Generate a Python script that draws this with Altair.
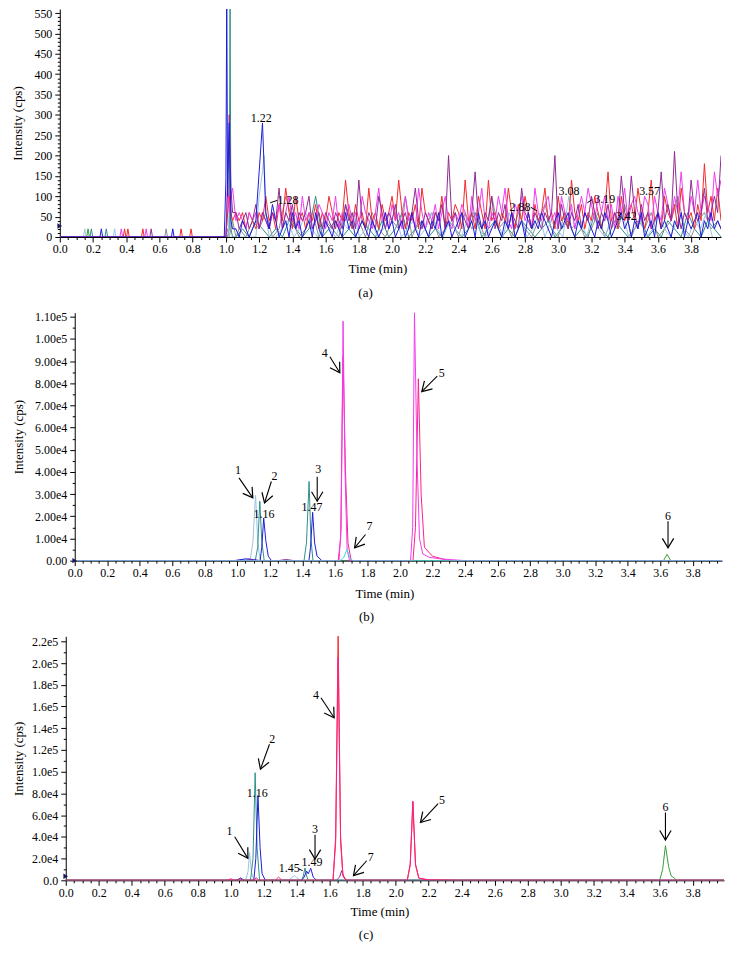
import math
import pandas as pd
import altair as alt

FONT = "Liberation Serif"

C_RED = "#f2282c"
C_MAG = "#ee3cee"
C_PINK = "#ff1f86"
C_PUR = "#8e2a92"
C_BLUE = "#1c1cd8"
C_TEAL = "#2f8f8a"
C_LTBLUE = "#9cc4e4"
C_GREEN = "#3a9a3a"
C_GREY = "#8c8c8c"
C_CYAN = "#3cdcdc"
C_MARK = "#1a1a5e"

X_TICKS = [round(0.05 * i, 2) for i in range(80)]

# ---------------- Panel (a) data ----------------
a_grid_start = 1.06
a_grid_step = 0.02
a_red = [60, 40, 60, 20, 60, 40, 20, 60, 40, 100,
         40, 60, 20, 80, 40, 120, 60, 20, 100, 40,
         60, 20, 60, 40, 80, 20, 60, 40, 100, 60,
         20, 60, 40, 140, 60, 20, 80, 40, 60, 20,
         120, 40, 60, 20, 80, 40, 60, 100, 40, 140,
         60, 20, 60, 40, 80, 20, 120, 60, 40, 20,
         60, 40, 100, 20, 60, 40, 80, 60, 20, 140,
         40, 60, 20, 100, 60, 20, 140, 40, 60, 20,
         60, 40, 120, 60, 20, 80, 40, 100, 60, 20,
         80, 40, 60, 120, 40, 60, 20, 100, 40, 60,
         20, 140, 60, 40, 80, 20, 60, 40, 100, 60,
         20, 60, 160, 40, 60, 20, 100, 40, 60, 80,
         40, 120, 60, 20, 60, 140, 40, 60, 20, 100,
         60, 40, 80, 20, 120, 60, 40, 60, 20, 80,
         40, 180, 60, 100, 40, 120, 40]
a_magenta = [40, 60, 40, 20, 60, 40, 60, 20, 60, 40,
             20, 60, 40, 80, 20, 60, 100, 40, 60, 20,
             100, 40, 60, 20, 40, 80, 60, 20, 60, 40,
             100, 20, 60, 40, 80, 40, 60, 20, 100, 60,
             40, 20, 60, 120, 40, 60, 20, 80, 40, 60,
             20, 100, 40, 60, 20, 120, 60, 20, 60, 40,
             80, 20, 60, 100, 40, 20, 60, 40, 80, 60,
             20, 100, 40, 60, 120, 40, 20, 60, 40, 100,
             60, 120, 40, 20, 80, 60, 100, 40, 60, 20,
             120, 60, 40, 80, 100, 40, 60, 20, 100, 60,
             40, 80, 20, 60, 100, 60, 120, 80, 40, 100,
             60, 100, 40, 80, 20, 100, 60, 120, 40, 80,
             100, 60, 40, 100, 80, 20, 100, 60, 40, 120,
             80, 40, 100, 60, 160, 60, 40, 100, 60, 140,
             60, 100, 80, 40, 160, 100, 140]
a_purple = [60, 20, 40, 60, 20, 40, 80, 20, 60, 40,
            20, 60, 40, 120, 20, 60, 40, 80, 20, 60,
            40, 60, 100, 20, 40, 60, 20, 60, 40, 20,
            60, 40, 20, 80, 40, 60, 20, 140, 40, 20,
            60, 40, 20, 100, 60, 20, 60, 40, 80, 20,
            40, 60, 20, 60, 120, 40, 20, 60, 40, 20,
            60, 40, 80, 20, 200, 40, 60, 20, 60, 40,
            20, 60, 160, 40, 20, 60, 40, 100, 20, 60,
            40, 80, 20, 60, 40, 20, 120, 60, 40, 20,
            60, 40, 20, 60, 40, 60, 200, 20, 80, 40,
            20, 60, 40, 80, 20, 60, 40, 100, 60, 20,
            60, 40, 80, 20, 60, 40, 150, 60, 40, 150,
            60, 20, 80, 40, 60, 20, 40, 60, 160, 40,
            80, 40, 210, 60, 20, 60, 40, 140, 60, 40,
            60, 120, 40, 60, 100, 60, 200]
a_blue = [20, 0, 40, 20, 0, 20, 40, 160, 280, 60,
          20, 80, 40, 0, 20, 40, 0, 60, 20, 40,
          0, 20, 40, 0, 60, 20, 0, 40, 20, 0,
          40, 20, 0, 60, 20, 40, 0, 20, 40, 20,
          0, 40, 20, 0, 20, 60, 20, 40, 0, 20,
          40, 0, 20, 60, 20, 0, 40, 20, 0, 40,
          20, 60, 0, 20, 40, 0, 20, 40, 60, 0,
          20, 40, 0, 60, 20, 40, 0, 20, 40, 20,
          0, 40, 20, 60, 0, 20, 40, 0, 60, 20,
          40, 20, 60, 40, 20, 0, 40, 60, 20, 40,
          60, 20, 0, 40, 20, 60, 40, 20, 0, 40,
          20, 60, 40, 0, 20, 40, 60, 20, 40, 0,
          40, 20, 60, 0, 20, 40, 0, 60, 20, 40,
          20, 0, 40, 20, 60, 0, 40, 20, 40, 60,
          0, 40, 20, 60, 20, 40, 20]
a_teal_start = 1.06
a_teal_step = 0.04
a_teal = [0, 20, 0, 40, 20, 0, 20, 0, 40, 20,
          0, 20, 100, 0, 20, 40, 0, 20, 0, 40,
          20, 0, 40, 0, 20, 60, 0, 20, 40, 0,
          20, 0, 40, 20, 0, 20, 60, 0, 20, 40,
          0, 20, 0, 40, 20, 0, 20, 40, 0, 20,
          40, 0, 20, 0, 60, 20, 0, 40, 20, 0,
          20, 40, 0, 20, 0, 40, 20, 0, 60, 20,
          0, 40, 20, 0]
a_grey_start = 1.08
a_grey_step = 0.04
a_grey = [20, 0, 40, 20, 60, 0, 20, 100, 40, 0,
          20, 60, 0, 40, 20, 0, 80, 20, 40, 0,
          60, 20, 0, 40, 20, 100, 0, 40, 20, 60,
          0, 20, 40, 0, 60, 20, 40, 0, 100, 20,
          40, 0, 60, 20, 0, 40, 80, 20, 0, 60,
          20, 40, 0, 20, 60, 0, 40, 20, 80, 0,
          40, 20, 60, 0, 20, 40, 100, 20, 0, 40,
          60, 20, 40, 0]
a_ltblue_start = 1.30
a_ltblue_step = 0.036
a_ltblue = [0, 20, 40, 0, 20, 60, 20, 0, 40, 20,
            0, 40, 20, 60, 0, 20, 40, 0, 20, 40,
            60, 0, 20, 40, 0, 20, 60, 20, 0, 40,
            20, 0, 40, 60, 20, 0, 20, 40, 0, 60,
            20, 40, 0, 20, 60, 0, 40, 20, 0, 100,
            20, 40, 0, 60, 20, 0, 40, 20, 60, 0,
            20, 40, 0, 20, 60, 20, 0, 40, 20, 0,
            40, 20, 60, 0]

a_pre_ltblue = [0.15, 0.33]
a_pre_green = [0.17]
a_pre_teal = [0.19, 0.28]
a_pre_blue = [0.25, 0.68]
a_pre_magenta = [0.37, 0.52]
a_pre_purple = [0.55]
a_pre_red = [0.39, 0.41, 0.50, 0.73, 0.79]
a_pre_grey = [0.64]
a_pre_height = 20

a_early_t_blue = [0.99, 1.00, 1.005, 1.01, 1.02, 1.03, 1.04]
a_early_v_blue = [0, 140, 600, 100, 280, 40, 20]
a_early_t_teal = [1.01, 1.02, 1.025, 1.03, 1.04]
a_early_v_teal = [0, 20, 600, 20, 0]
a_early_t_purple = [1.00, 1.01, 1.02, 1.03, 1.04]
a_early_v_purple = [0, 120, 300, 120, 60]
a_early_t_magenta = [1.00, 1.01, 1.02, 1.03, 1.04]
a_early_v_magenta = [0, 150, 60, 100, 120]
a_early_t_red = [1.00, 1.01, 1.02, 1.03, 1.04]
a_early_v_red = [0, 60, 100, 60, 40]
a_early_t_ltblue = [1.00, 1.01, 1.02, 1.18, 1.20, 1.22, 1.23, 1.24, 1.26]
a_early_v_ltblue = [0, 60, 0, 0, 100, 160, 200, 60, 0]
a_early_t_grey = [1.00, 1.01, 1.02, 1.04, 1.06]
a_early_v_grey = [0, 20, 0, 40, 0]

a_lab_text = ["1.22", "1.28", "2.88", "3.08", "3.19", "3.42", "3.57"]
a_lab_t = [1.212, 1.374, 2.77, 3.065, 3.28, 3.41, 3.55]
a_lab_v = [293, 91, 73, 112, 93, 52, 112]
a_lead_t = [1.266, 2.835, 3.175]
a_lead_v = [84, 73, 84]
a_lead_t2 = [1.31, 2.873, 3.205]
a_lead_v2 = [90, 64, 92]
a_marker_v = [27]

# ---------------- Panel (b) data ----------------
b_ltblue_t = [0.0, 1.00, 1.08, 1.095, 1.112, 1.125, 1.14, 3.98]
b_ltblue_v = [0, 0, 1000, 8000, 29500, 9000, 0, 0]
b_teal_t = [0.0, 1.11, 1.125, 1.138, 1.15, 1.165, 1.41, 1.425, 1.441, 1.452, 1.465, 3.98]
b_teal_v = [0, 0, 6000, 26800, 9000, 0, 0, 8000, 35700, 10000, 0, 0]
b_blue_t = [0.0, 0.98, 1.05, 1.10, 1.14, 1.15, 1.162, 1.175, 1.19, 1.21,
            1.44, 1.45, 1.463, 1.475, 1.49, 1.52, 3.98]
b_blue_v = [0, 0, 800, 500, 0, 6000, 19200, 9000, 2000, 0,
            0, 6000, 21800, 8000, 2000, 0, 0]
b_purple_t = [0.0, 1.05, 1.08, 1.11, 1.25, 1.30, 1.35, 3.98]
b_purple_v = [0, 0, 600, 0, 0, 500, 0, 0]
b_green_t = [0.0, 3.62, 3.642, 3.665, 3.98]
b_green_v = [0, 0, 2800, 0, 0]
b_red_t = [0.0, 1.62, 1.635, 1.650, 1.665, 1.68, 1.70, 2.08, 2.095, 2.113, 2.13, 2.15, 2.20, 2.30, 3.98]
b_red_v = [0, 0, 10000, 92000, 40000, 8000, 0, 0, 15000, 82000, 30000, 6000, 2000, 0, 0]
b_mag_t = [0.0, 1.625, 1.638, 1.650, 1.662, 1.675, 1.69, 2.065, 2.078, 2.089, 2.105,
           2.12, 2.14, 2.18, 2.25, 2.40, 3.98]
b_mag_v = [0, 0, 15000, 108000, 40000, 5000, 0, 0, 15000, 112000, 45000,
           10000, 3000, 1500, 800, 0, 0]
b_cyan_t = [0.0, 1.63, 1.655, 1.674, 1.69, 1.71, 3.98]
b_cyan_v = [0, 0, 1500, 5100, 1500, 0, 0]

b_lab_text = ["1", "2", "1.16", "3", "1.47", "4", "7", "5", "6"]
b_lab_t = [1.004, 1.228, 1.164, 1.498, 1.459, 1.538, 1.813, 2.256, 3.648]
b_lab_v = [40700, 38300, 21100, 41300, 24200, 93800, 15500, 84400, 20300]
b_arr_t = [1.010, 1.209, 1.491, 1.569, 1.788, 2.229, 3.648]
b_arr_v = [37300, 35700, 37800, 91900, 11800, 83200, 17800]
b_arr_t2 = [1.095, 1.167, 1.491, 1.630, 1.721, 2.134, 3.648]
b_arr_v2 = [28300, 26000, 26800, 84700, 5800, 76200, 5800]
b_marker_v = [0]

# ---------------- Panel (c) data ----------------
c_ltblue_t = [0.0, 1.09, 1.105, 1.114, 1.125, 1.14, 1.35, 1.37, 1.386, 1.40, 1.42, 3.99]
c_ltblue_v = [0, 0, 8000, 25700, 8000, 0, 0, 2500, 4300, 2500, 0, 0]
c_teal_t = [0.0, 1.12, 1.135, 1.148, 1.16, 1.175, 1.43, 1.44, 1.450, 1.46, 1.47, 3.99]
c_teal_v = [0, 0, 20000, 99000, 30000, 0, 0, 4000, 11400, 4000, 0, 0]
c_blue_t = [0.0, 1.04, 1.06, 1.08, 1.14, 1.152, 1.165, 1.178, 1.19, 1.21,
            1.43, 1.445, 1.46, 1.47, 1.485, 1.50, 1.52, 3.99]
c_blue_v = [0, 0, 2200, 0, 0, 20000, 78000, 30000, 6000, 0,
            0, 3000, 8500, 6000, 11000, 3000, 0, 0]
c_purple_t = [0.0, 1.03, 1.055, 1.08, 1.64, 1.66, 1.672, 1.685, 1.70, 3.99]
c_purple_v = [0, 0, 1500, 0, 0, 3000, 8900, 3000, 0, 0]
c_green_t = [0.0, 3.60, 3.618, 3.635, 3.655, 3.67, 3.69, 3.70, 3.99]
c_green_v = [0, 0, 10000, 31900, 12000, 4000, 2000, 0, 0]
c_red_t = [0.0, 1.62, 1.636, 1.651, 1.666, 1.68, 1.70, 2.07, 2.088, 2.104, 2.12, 2.14, 2.20, 3.99]
c_red_v = [0, 0, 40000, 226000, 40000, 5000, 0, 0, 15000, 72000, 15000, 2000, 0, 0]
c_pink_t = [0.0, 0.98, 1.0, 1.02, 1.14, 1.155, 1.17, 1.27, 1.29, 1.31, 1.62, 1.636, 1.651,
            1.666, 1.68, 1.70, 2.07, 2.088, 2.104, 2.12, 2.14, 2.20, 2.40, 3.99]
c_pink_v = [0, 0, 1500, 0, 0, 2500, 0, 0, 3000, 0, 0, 35000, 205000,
            35000, 4000, 0, 0, 14000, 73000, 14000, 2000, 500, 0, 0]

c_lab_text = ["1", "2", "1.16", "3", "1.45", "1.49", "4", "7", "5", "6"]
c_lab_t = [0.993, 1.251, 1.161, 1.511, 1.355, 1.492, 1.517, 1.849, 2.281, 3.635]
c_lab_v = [45600, 129800, 80800, 47200, 11400, 16500, 171000, 21100, 73800, 67700]
c_arr_t = [1.024, 1.235, 1.511, 1.547, 1.824, 2.257, 3.635]
c_arr_v = [40100, 125200, 42000, 168000, 18000, 70700, 62400]
c_arr_t2 = [1.104, 1.180, 1.511, 1.627, 1.744, 2.150, 3.635]
c_arr_v2 = [20200, 102300, 19600, 149600, 4300, 53200, 37100]
c_lead_t = [1.412]
c_lead_v = [10500]
c_lead_t2 = [1.436]
c_lead_v2 = [8900]
c_marker_v = [3700]

ARROW_PATH = "M-0.6,-1L0,0L0.6,-1"


# ---------------- helpers ----------------
def spike_pts(times, h, w=0.008):
    t, v = [], []
    for x in times:
        t += [x - w, x, x + w]
        v += [0, h, 0]
    return t, v


def a_series(pre, early_t, early_v, grid=None, start=a_grid_start, step=a_grid_step):
    t, v = [0.0], [0]
    st, sv = spike_pts(pre, a_pre_height)
    t += st
    v += sv
    t += list(early_t)
    v += list(early_v)
    if grid:
        t += [round(start + step * i, 3) for i in range(len(grid))]
        v += list(grid)
    return pd.DataFrame({"t": t, "v": v})


def df(t, v):
    return pd.DataFrame({"t": t, "v": v})


def x_enc(xmax, title_x, title_pad):
    major = "abs(datum.value*5 - round(datum.value*5)) < 0.001"
    return alt.X(
        "t:Q",
        scale=alt.Scale(domain=[0, xmax], nice=False, zero=False),
        axis=alt.Axis(
            values=X_TICKS,
            labelExpr=f"{major} ? format(datum.value, '.1f') : ''",
            tickSize={"condition": {"test": major, "value": 5}, "value": 2.5},
            labelOverlap=False, labelFlush=False, labelPadding=2,
            title="Time (min)", titleX=title_x, titlePadding=title_pad,
        ),
    )


def y_enc(ymax, values, major_step, fmt, zero_txt, title_pad):
    major = f"datum.value % {major_step} == 0"
    if fmt == "d":
        lab = f"{major} ? format(datum.value, 'd') : ''"
    else:
        lab = (f"{major} ? (datum.value == 0 ? '{zero_txt}' : "
               f"replace(format(datum.value, '{fmt}'), 'e+', 'e')) : ''")
    return alt.Y(
        "v:Q",
        scale=alt.Scale(domain=[0, ymax], nice=False, zero=True),
        axis=alt.Axis(
            values=values, labelExpr=lab,
            tickSize={"condition": {"test": major, "value": 5}, "value": 2.5},
            labelOverlap=False, labelFlush=False, labelPadding=3,
            title="Intensity (cps)", titlePadding=title_pad,
        ),
    )


def panel(series, labels, arrows, leaders, marker_v, xmax, ymax, W, H,
          xe, ye, caption, cap_dx, cap_off):
    layers = []
    for d, color in series:
        layers.append(alt.Chart(d).mark_line(color=color, strokeWidth=1, clip=True)
                      .encode(x=xe, y=ye))
    if leaders is not None:
        lt, lv, lt2, lv2 = leaders
        ldf = pd.DataFrame({"t": lt, "v": lv, "t2": lt2, "v2": lv2})
        layers.append(alt.Chart(ldf).mark_rule(color="black", strokeWidth=1)
                      .encode(x=xe, y=ye, x2=alt.X2("t2"), y2=alt.Y2("v2")))
    if arrows is not None:
        at, av, at2, av2 = arrows
        adf = pd.DataFrame({"t": at, "v": av, "t2": at2, "v2": av2})
        layers.append(alt.Chart(adf).mark_rule(color="black", strokeWidth=1.1)
                      .encode(x=xe, y=ye, x2=alt.X2("t2"), y2=alt.Y2("v2")))
        angs = []
        for a, b, c, d in zip(at, av, at2, av2):
            dx = (c - a) * W / xmax
            dy = -(d - b) * H / ymax
            angs.append(math.degrees(math.atan2(-dx, dy)) % 360)
        hdf = pd.DataFrame({"t": at2, "v": av2, "ang": angs})
        layers.append(alt.Chart(hdf).mark_point(shape=ARROW_PATH, filled=False,
                                                color="black", strokeWidth=1.2,
                                                size=360, opacity=1)
                      .encode(x=xe, y=ye, angle=alt.Angle("ang:Q", scale=None)))
    lt, lv, ltxt = labels
    tdf = pd.DataFrame({"t": lt, "v": lv, "lab": ltxt})
    layers.append(alt.Chart(tdf).mark_text(font=FONT, fontSize=12, color="black")
                  .encode(x=xe, y=ye, text="lab:N"))
    mdf = pd.DataFrame({"t": [0.0] * len(marker_v), "v": marker_v})
    layers.append(alt.Chart(mdf).mark_point(shape="triangle-right", filled=True,
                                            color=C_MARK, size=30, opacity=1)
                  .encode(x=xe, y=ye))
    return alt.layer(*layers).properties(
        width=W, height=H,
        title=alt.TitleParams(caption, orient="bottom", anchor="middle", frame="group",
                              dx=cap_dx, offset=cap_off, font=FONT, fontSize=13,
                              fontWeight="normal", color="black"),
    )


def spacer():
    return (alt.Chart(pd.DataFrame({"t": [0]}))
            .mark_point(opacity=0, size=1)
            .encode(x=alt.value(0), y=alt.value(0))
            .properties(width=1, height=1))


# ---------------- Panel (a) ----------------
A_XMAX, A_YMAX, A_W, A_H = 3.98, 560, 664, 229
xa = x_enc(A_XMAX, 319, 8)
ya = y_enc(A_YMAX, list(range(0, 551, 10)), 50, "d", "0", 9)
a_series_list = [
    (a_series(a_pre_teal, a_early_t_teal, a_early_v_teal, a_teal, a_teal_start, a_teal_step), C_TEAL),
    (a_series(a_pre_grey, a_early_t_grey, a_early_v_grey, a_grey, a_grey_start, a_grey_step), C_GREY),
    (a_series(a_pre_ltblue, a_early_t_ltblue, a_early_v_ltblue, a_ltblue, a_ltblue_start, a_ltblue_step), C_LTBLUE),
    (a_series(a_pre_green, [], []), C_GREEN),
    (a_series(a_pre_red, a_early_t_red, a_early_v_red, a_red), C_RED),
    (a_series(a_pre_magenta, a_early_t_magenta, a_early_v_magenta, a_magenta), C_MAG),
    (a_series(a_pre_purple, a_early_t_purple, a_early_v_purple, a_purple), C_PUR),
    (a_series(a_pre_blue, a_early_t_blue, a_early_v_blue, a_blue), C_BLUE),
]
pa = panel(a_series_list, (a_lab_t, a_lab_v, a_lab_text), None,
           (a_lead_t, a_lead_v, a_lead_t2, a_lead_v2), a_marker_v,
           A_XMAX, A_YMAX, A_W, A_H, xa, ya, "(a)", -25, 11)

# ---------------- Panel (b) ----------------
B_XMAX, B_YMAX, B_W, B_H = 3.98, 111800, 650, 249
xb = x_enc(B_XMAX, 311, 9)
yb = y_enc(B_YMAX, list(range(0, 110001, 5000)), 10000, ".2e", "0.00", 9)
b_series_list = [
    (df(b_ltblue_t, b_ltblue_v), C_LTBLUE),
    (df(b_teal_t, b_teal_v), C_TEAL),
    (df(b_blue_t, b_blue_v), C_BLUE),
    (df(b_purple_t, b_purple_v), C_PUR),
    (df(b_green_t, b_green_v), C_GREEN),
    (df(b_red_t, b_red_v), C_PINK),
    (df(b_mag_t, b_mag_v), C_MAG),
    (df(b_cyan_t, b_cyan_v), C_CYAN),
]
pb = panel(b_series_list, (b_lab_t, b_lab_v, b_lab_text),
           (b_arr_t, b_arr_v, b_arr_t2, b_arr_v2), None, b_marker_v,
           B_XMAX, B_YMAX, B_W, B_H, xb, yb, "(b)", -32, 11)

# ---------------- Panel (c) ----------------
C_XMAX, C_YMAX, C_W, C_H = 3.99, 224600, 661, 245
xc = x_enc(C_XMAX, 315, 7)
yc = y_enc(C_YMAX, list(range(0, 220001, 10000)), 20000, ".1e", "0.0", 6)
c_series_list = [
    (df(c_ltblue_t, c_ltblue_v), C_LTBLUE),
    (df(c_teal_t, c_teal_v), C_TEAL),
    (df(c_blue_t, c_blue_v), C_BLUE),
    (df(c_purple_t, c_purple_v), C_PUR),
    (df(c_green_t, c_green_v), C_GREEN),
    (df(c_red_t, c_red_v), C_RED),
    (df(c_pink_t, c_pink_v), C_PINK),
]
pc = panel(c_series_list, (c_lab_t, c_lab_v, c_lab_text),
           (c_arr_t, c_arr_v, c_arr_t2, c_arr_v2),
           (c_lead_t, c_lead_v, c_lead_t2, c_lead_v2), c_marker_v,
           C_XMAX, C_YMAX, C_W, C_H, xc, yc, "(c)", -29, 11)

chart = (
    alt.concat(spacer(), pa, spacer(), pb, spacer(), pc, columns=2,
               spacing={"row": 11, "column": 0}, align="none")
    .properties(padding={"left": 2, "top": -3, "right": 2, "bottom": 0},
                background="white")
    .configure_view(stroke=None)
    .configure_axis(labelFont=FONT, titleFont=FONT, labelFontSize=12, titleFontSize=13,
                    titleFontWeight="normal", labelColor="black", titleColor="black",
                    domainColor="black", tickColor="black", grid=False,
                    domainWidth=1, tickWidth=1)
    .configure_title(font=FONT, fontSize=13, fontWeight="normal", color="black")
)

chart.save("out.html", embed_options={"renderer": "svg", "actions": False})
